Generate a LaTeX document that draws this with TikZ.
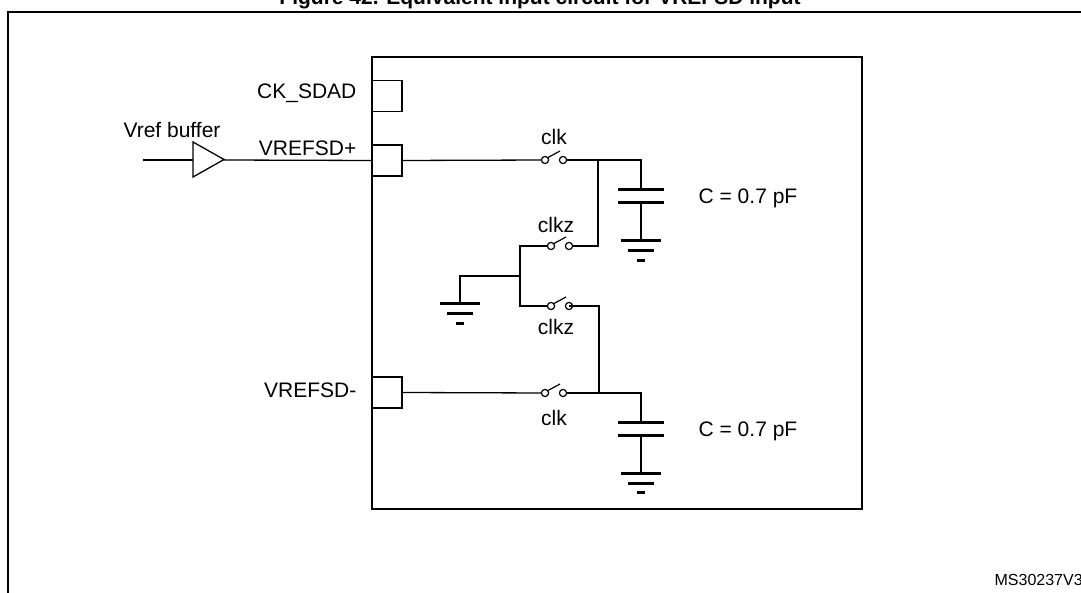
\documentclass[tikz,border=0pt]{standalone}
\usepackage{fontspec}
\setmainfont{Liberation Sans}
\begin{document}
\begin{tikzpicture}[x=1pt,y=-1pt,line width=1.3pt,
  lbl/.style={font=\fontsize{21}{24}\selectfont,inner sep=0pt},
  pin/.style={draw,minimum width=30pt,minimum height=31pt,inner sep=0pt},
  sw/.pic={\draw[line width=1.2pt,fill=white] (-9,0) circle (3.6) (9,0) circle (3.6);
           \draw[line width=1.2pt] (-6,-2.5) -- (6,-9);},
  gnd/.pic={\draw[line width=3pt] (-20,0) -- (20,0) (-13,10) -- (13,10) (-4,19.5) -- (4,19.5);},
  cap/.pic={\draw[line width=3pt] (-23,0) -- (23,0) (-23,13) -- (23,13);}]
\useasboundingbox (0,0) rectangle (1081,593);
\node[font=\bfseries\fontsize{21}{24}\selectfont,inner sep=0pt] (title) at (540,-1) {Figure 42. Equivalent input circuit for VREFSD input};
\draw (8,606) -- (8,12) -- (1100,12);
\draw (372,57) rectangle (862,509);
% pins
\node[pin] (pck) at (387,96) {};
\node[pin] (pp) at (387,160.5) {};
\node[pin] (pm) at (387,392.5) {};
\node[lbl,anchor=east] at (357,93) {CK\_SDAD};
\node[lbl,anchor=east] at (357,148) {VREFSD+};
\node[lbl,anchor=east] at (357,390) {VREFSD-};
\node[lbl] at (172,130) {Vref buffer};
% buffer
\coordinate (in) at (143,160);
\draw (193,142) -- (224,159.5) -- (193,177) -- cycle;
\coordinate (bi) at (193,160); \coordinate (bo) at (224,160);
\draw (in) -- (bi); \draw (bo) -- (pp.west);
% upper path
\coordinate (s1) at (554,160); \coordinate (j1) at (598,160); \coordinate (c1) at (641,160);
\draw (pp.east) -- (545,160); \draw (563,160) -- (c1) -- (641,190);
\pic at (s1) {sw};
\node[lbl] at (554,137) {clk};
\pic at (641,190) {cap};
\draw (641,203) -- (641,241);
\pic at (641,241) {gnd};
\node[lbl,anchor=west] at (698,198) {C = 0.7 pF};
% clkz upper
\coordinate (s2) at (560,246);
\draw (j1) -- (598,246) -- (569,246); \draw (551,246) -- (520,246) -- (520,306) -- (551,306);
\pic at (s2) {sw};
\node[lbl] at (556,225) {clkz};
\coordinate (g) at (520,276);
\draw (g) -- (460,276) -- (460,304);
\pic at (460,304) {gnd};
% clkz lower
\coordinate (s3) at (560,306);
\pic at (s3) {sw};
\node[lbl] at (556,327) {clkz};
\draw (569,306) -- (599,306) -- (599,393);
% lower path
\coordinate (s4) at (554,393);
\draw (pm.east) -- (545,393); \draw (563,393) -- (641,393) -- (641,422);
\pic at (s4) {sw};
\node[lbl] at (554,418) {clk};
\pic at (641,422) {cap};
\draw (641,435) -- (641,473);
\pic at (641,473) {gnd};
\node[lbl,anchor=west] at (698,431) {C = 0.7 pF};
\node[lbl,anchor=west,font=\fontsize{16}{18}\selectfont] at (994,580) {MS30237V3};
\end{tikzpicture}
\end{document}
